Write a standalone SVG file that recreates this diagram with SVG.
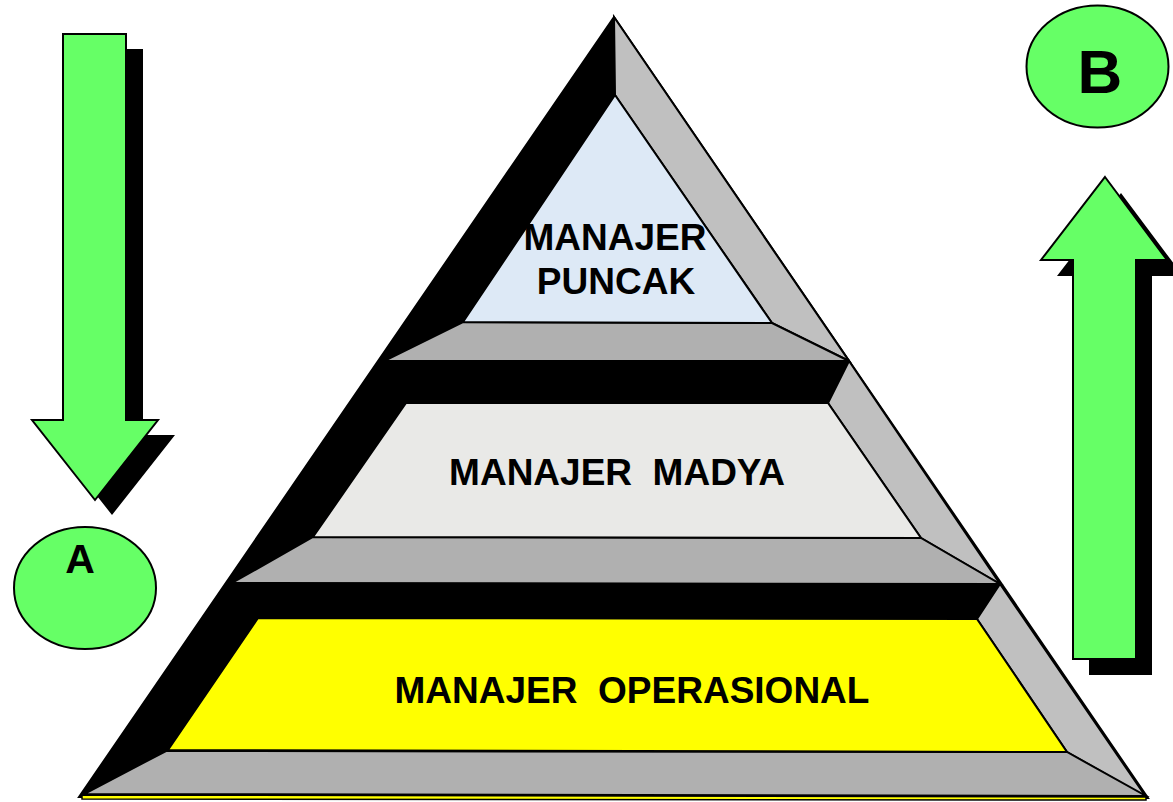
<svg xmlns="http://www.w3.org/2000/svg" width="1173" height="802" viewBox="0 0 1173 802">
<style>
  .lbl { font-family: "Liberation Sans", Arial, sans-serif; font-weight: bold; fill: #000; text-anchor: middle; white-space: pre; }
  .face { stroke: #000; stroke-width: 2; stroke-linejoin: miter; }
  .rface { fill: #c0c0c0; }
  .bface { fill: #b0b0b0; }
  .green { fill: #66ff66; stroke: #000; stroke-width: 2; }
  .shadow { fill: #000; }
</style>
<rect width="1173" height="802" fill="#ffffff"/>

<g id="pyramid">
  <polygon points="614,17 79,797 1148,798" fill="#000" stroke="#000" stroke-width="2"/>
</g>

<g id="tier-top">
  <polygon class="face rface" points="614,17 849,361 772,323 615,95"/>
  <polygon class="face bface" points="463,322 772,323 849,361 384,361"/>
  <polygon class="face" fill="#dde9f6" points="615,95 772,323 463,322"/>
  <text class="lbl" x="615" y="250" font-size="37">MANAJER</text>
  <text class="lbl" x="616" y="294" font-size="37">PUNCAK</text>
</g>

<g id="tier-middle">
  <polygon class="face rface" points="849,361 1000,584 921,538 828,403"/>
  <polygon class="face bface" points="313,537 921,538 1000,584 232,583"/>
  <polygon class="face" fill="#e9e9e7" points="406,403 828,403 921,538 313,537"/>
  <text class="lbl" x="617" y="485" font-size="37" xml:space="preserve">MANAJER  MADYA</text>
</g>

<g id="tier-bottom">
  <polygon class="face rface" points="1000,584 1146,797 1067,752 977,619"/>
  <polygon class="face bface" points="166,751 1067,752 1146,796 84,794"/>
  <polygon class="face" fill="#ffff00" points="258,618 977,619 1067,752 168,750"/>
  <polygon points="82,795 1146,797 1146,800 82,799" fill="#ffff00" stroke="#000" stroke-width="1.5"/>
  <text class="lbl" x="632" y="703" font-size="37" xml:space="preserve">MANAJER  OPERASIONAL</text>
</g>

<g id="connectors">
  <g id="arrow-down">
    <polygon class="shadow" transform="translate(17,15)" points="63,34 126,34 126,420 158,420 95,500 32,420 63,420"/>
    <polygon class="green" stroke-width="1.5" points="63,34 126,34 126,420 158,420 95,500 32,420 63,420"/>
  </g>
  <g id="arrow-up">
    <polygon class="shadow" transform="translate(16,16)" points="1105,177 1167,260 1136,260 1136,659 1073,659 1073,260 1041,260"/>
    <polygon class="green" stroke-width="1.5" points="1105,177 1167,260 1136,260 1136,659 1073,659 1073,260 1041,260"/>
  </g>
</g>

<g id="node-a">
  <ellipse class="green" cx="85" cy="588" rx="71" ry="61"/>
  <text class="lbl" x="80" y="573" font-size="41">A</text>
</g>

<g id="node-b">
  <ellipse class="green" cx="1097.5" cy="66.5" rx="71" ry="61"/>
  <text class="lbl" x="1100" y="93" font-size="62">B</text>
</g>
</svg>
